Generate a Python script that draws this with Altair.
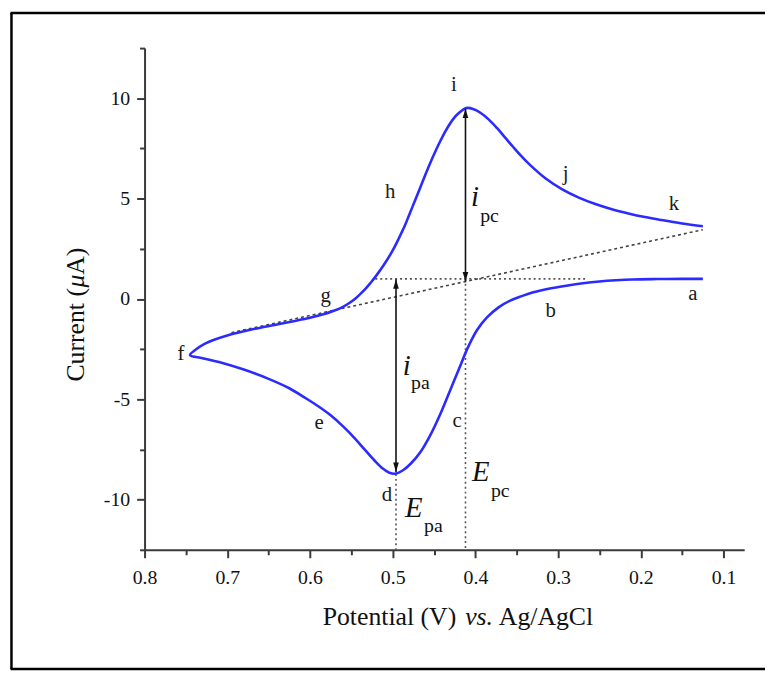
import altair as alt
import pandas as pd

# ---------------- data ----------------
# cyclic voltammogram, in drawing order: a -> ... -> f (lower branch), then f -> ... -> k (upper branch)
low_x = [0.125, 0.150, 0.180, 0.210, 0.230, 0.250, 0.270, 0.290, 0.310, 0.330,
         0.344, 0.358, 0.372, 0.386, 0.398, 0.410, 0.418, 0.430, 0.442, 0.454,
         0.466, 0.478, 0.488, 0.496, 0.504, 0.512, 0.522, 0.534, 0.545, 0.560,
         0.575, 0.590, 0.605, 0.625, 0.650, 0.680, 0.710, 0.730, 0.745]
low_y = [1.00, 1.00, 0.99, 0.97, 0.93, 0.87, 0.78, 0.66, 0.52, 0.33,
         0.14, -0.08, -0.42, -0.92, -1.55, -2.50, -3.30, -4.50, -5.70, -6.75,
         -7.60, -8.20, -8.55, -8.70, -8.66, -8.45, -8.05, -7.50, -6.98, -6.35,
         -5.80, -5.35, -4.95, -4.45, -3.98, -3.52, -3.14, -2.95, -2.80]
up_x = [0.738, 0.728, 0.715, 0.700, 0.680, 0.660, 0.640, 0.620, 0.600, 0.585,
        0.572, 0.560, 0.552, 0.545, 0.539, 0.533, 0.527, 0.521, 0.511, 0.501,
        0.493, 0.485, 0.479, 0.473, 0.467, 0.461, 0.455, 0.449, 0.443, 0.437,
        0.431, 0.425, 0.419, 0.414, 0.410, 0.402, 0.394, 0.384, 0.374, 0.364,
        0.354, 0.344, 0.334, 0.315, 0.295, 0.275, 0.255, 0.235, 0.215, 0.195,
        0.175, 0.150, 0.125]
up_y = [-2.52, -2.25, -2.02, -1.82, -1.61, -1.43, -1.27, -1.11, -0.94, -0.78,
        -0.60, -0.39, -0.19, 0.02, 0.25, 0.50, 0.79, 1.10, 1.68, 2.34,
        2.98, 3.68, 4.30, 4.90, 5.52, 6.14, 6.74, 7.30, 7.82, 8.30,
        8.72, 9.06, 9.30, 9.46, 9.52, 9.45, 9.28, 8.95, 8.52, 8.04,
        7.56, 7.10, 6.68, 6.00, 5.46, 5.05, 4.73, 4.47, 4.26, 4.08,
        3.93, 3.76, 3.62]

# sloped baseline (dashed)
base_x = [0.695, 0.125]
base_y = [-1.68, 3.45]

# dotted guide lines: horizontal at i=1.0, verticals at Epc and Epa
guide_x = [0.521, 0.412, 0.496]
guide_x2 = [0.265, 0.412, 0.496]
guide_y = [1.0, 1.0, -8.72]
guide_y2 = [1.0, -12.5, -12.5]

# double-headed arrows (ipc, ipa)
arrow_x = [0.412, 0.496]
arrow_top = [9.48, 0.98]
arrow_bottom = [0.88, -8.62]

# point letters
letters = ["a", "b", "c", "d", "e", "f", "g", "h", "i", "j", "k"]
letter_x = [0.137, 0.309, 0.422, 0.507, 0.589, 0.756, 0.581, 0.503, 0.426, 0.291, 0.160]
letter_y = [0.23, -0.59, -6.09, -9.79, -6.17, -2.76, 0.15, 5.32, 10.65, 6.22, 4.74]

# big italic symbols and their subscripts
sym_text = ["i", "i", "E", "E"]
sym_x = [0.4004, 0.483, 0.3936, 0.4746]
sym_y = [5.09, -3.35, -8.64, -10.41]
sub_text = ["pc", "pa", "pc", "pa"]
sub_x = [0.383, 0.4666, 0.370, 0.4508]
sub_y = [4.15, -4.2, -9.55, -11.3]

x_ticks = [0.8, 0.75, 0.7, 0.65, 0.6, 0.55, 0.5, 0.45, 0.4, 0.35, 0.3, 0.25, 0.2, 0.15, 0.1]
y_ticks = [-12.5, -10, -7.5, -5, -2.5, 0, 2.5, 5, 7.5, 10, 12.5]
x_domain = [0.075, 0.8]
y_domain = [-12.5, 12.5]

# ---------------- tables ----------------
cv_x = low_x + up_x
cv_y = low_y + up_y
cv = pd.DataFrame({"x": cv_x, "y": cv_y, "i": list(range(len(cv_x)))})
base = pd.DataFrame({"x": base_x, "y": base_y, "i": [0, 1]})
guides = pd.DataFrame({"x": guide_x, "x2": guide_x2, "y": guide_y, "y2": guide_y2})
arrows = pd.DataFrame({"x": arrow_x, "top": arrow_top, "bottom": arrow_bottom})
lab = pd.DataFrame({"t": letters, "x": letter_x, "y": letter_y})
sym = pd.DataFrame({"t": sym_text, "x": sym_x, "y": sym_y})
sub = pd.DataFrame({"t": sub_text, "x": sub_x, "y": sub_y})

SERIF = "Liberation Serif"
MAJ_X = "abs(datum.value*10 - round(datum.value*10)) < 0.001"
MAJ_Y = "abs(datum.value/5 - round(datum.value/5)) < 0.001"

xscale = alt.Scale(domain=x_domain, reverse=True, nice=False, zero=False)
yscale = alt.Scale(domain=y_domain, nice=False, zero=False)

xaxis = alt.Axis(values=x_ticks, labelExpr=f"{MAJ_X} ? format(datum.value, '.1f') : ''",
                 tickSize={"condition": {"test": MAJ_X, "value": 8}, "value": 5},
                 labelFont=SERIF, labelFontSize=20, labelColor="#111", labelFlush=False,
                 labelPadding=10, title=None, grid=False)
yaxis = alt.Axis(values=y_ticks, labelExpr=f"{MAJ_Y} ? '' + datum.value : ''",
                 tickSize={"condition": {"test": MAJ_Y, "value": 8}, "value": 5},
                 labelFont=SERIF, labelFontSize=20, labelColor="#111", labelFlush=False,
                 labelPadding=7, title=None, grid=False)

curve = alt.Chart(cv).mark_line(color="#2b2bff", strokeWidth=2.6, interpolate="catmull-rom").encode(
    x=alt.X("x:Q", scale=xscale, axis=xaxis),
    y=alt.Y("y:Q", scale=yscale, axis=yaxis),
    order="i:Q",
)

baseline = alt.Chart(base).mark_line(color="#444", strokeWidth=1.6, strokeDash=[3, 3]).encode(
    x=alt.X("x:Q", scale=xscale), y=alt.Y("y:Q", scale=yscale), order="i:Q"
)

guide = alt.Chart(guides).mark_rule(color="#555", strokeWidth=1.6, strokeDash=[2, 3]).encode(
    x=alt.X("x:Q", scale=xscale), x2="x2:Q", y=alt.Y("y:Q", scale=yscale), y2="y2:Q"
)

shaft = alt.Chart(arrows).mark_rule(color="#111", strokeWidth=1.6).encode(
    x=alt.X("x:Q", scale=xscale), y=alt.Y("top:Q", scale=yscale), y2="bottom:Q"
)
head_up = alt.Chart(arrows).mark_point(shape="M0,0L-0.6,2L0.6,2Z", filled=True, size=90,
                                       color="#111", opacity=1).encode(
    x=alt.X("x:Q", scale=xscale), y=alt.Y("top:Q", scale=yscale)
)
head_dn = alt.Chart(arrows).mark_point(shape="M0,0L-0.6,-2L0.6,-2Z", filled=True, size=90,
                                       color="#111", opacity=1).encode(
    x=alt.X("x:Q", scale=xscale), y=alt.Y("bottom:Q", scale=yscale)
)

letter_txt = alt.Chart(lab).mark_text(font=SERIF, fontSize=21, color="#1a1a1a",
                                      align="center", baseline="middle").encode(
    x=alt.X("x:Q", scale=xscale), y=alt.Y("y:Q", scale=yscale), text="t:N"
)
sym_txt = alt.Chart(sym).mark_text(font=SERIF, fontSize=29, fontStyle="italic", color="#111",
                                   align="center", baseline="middle").encode(
    x=alt.X("x:Q", scale=xscale), y=alt.Y("y:Q", scale=yscale), text="t:N"
)
sub_txt = alt.Chart(sub).mark_text(font=SERIF, fontSize=20, color="#111",
                                   align="center", baseline="middle").encode(
    x=alt.X("x:Q", scale=xscale), y=alt.Y("y:Q", scale=yscale), text="t:N"
)

one = alt.Data(values=[{}])

def title_piece(txt, px, py, italic=False, angle=0):
    kw = dict(font=SERIF, fontSize=26, color="#111", align="left", baseline="alphabetic")
    if italic:
        kw["fontStyle"] = "italic"
    if angle:
        kw["angle"] = angle
    return alt.Chart(one).mark_text(**kw).encode(
        x=alt.value(px), y=alt.value(py), text=alt.value(txt))

titles = [
    title_piece("Potential (V)", 180, 583),
    title_piece("vs.", 324, 583, italic=True),
    title_piece("Ag/AgCl", 358, 583),
    title_piece("Current (", -61, 337, angle=270),
    title_piece("\u03bc", -61, 242, italic=True, angle=270),
    title_piece("A)", -61, 229, angle=270),
]

# frame around the figure (left, top, bottom)
frame = [
    alt.Chart(one).mark_rule(color="black", strokeWidth=2.5).encode(
        x=alt.value(-134.5), y=alt.value(-35.5), y2=alt.value(627.5)),
    alt.Chart(one).mark_rule(color="black", strokeWidth=2.5).encode(
        x=alt.value(-135.5), x2=alt.value(627), y=alt.value(-35.5)),
    alt.Chart(one).mark_rule(color="black", strokeWidth=2.5).encode(
        x=alt.value(-135.5), x2=alt.value(627), y=alt.value(627.5)),
]

chart = alt.layer(
    guide, baseline, curve, shaft, head_up, head_dn, letter_txt, sym_txt, sub_txt,
    *titles, *frame
).properties(
    width=606, height=507,
    autosize=alt.AutoSizeParams(type="none"),
    padding={"left": 138, "top": 37, "right": 21, "bottom": 122},
).configure_view(stroke=None).configure_axis(
    labelFont=SERIF, labelFontSize=20, labelColor="#111",
    domainColor="#3a3a3a", domainWidth=2, tickColor="#3a3a3a", tickWidth=2,
)

chart.save("out.html", embed_options={"renderer": "svg", "actions": False})
